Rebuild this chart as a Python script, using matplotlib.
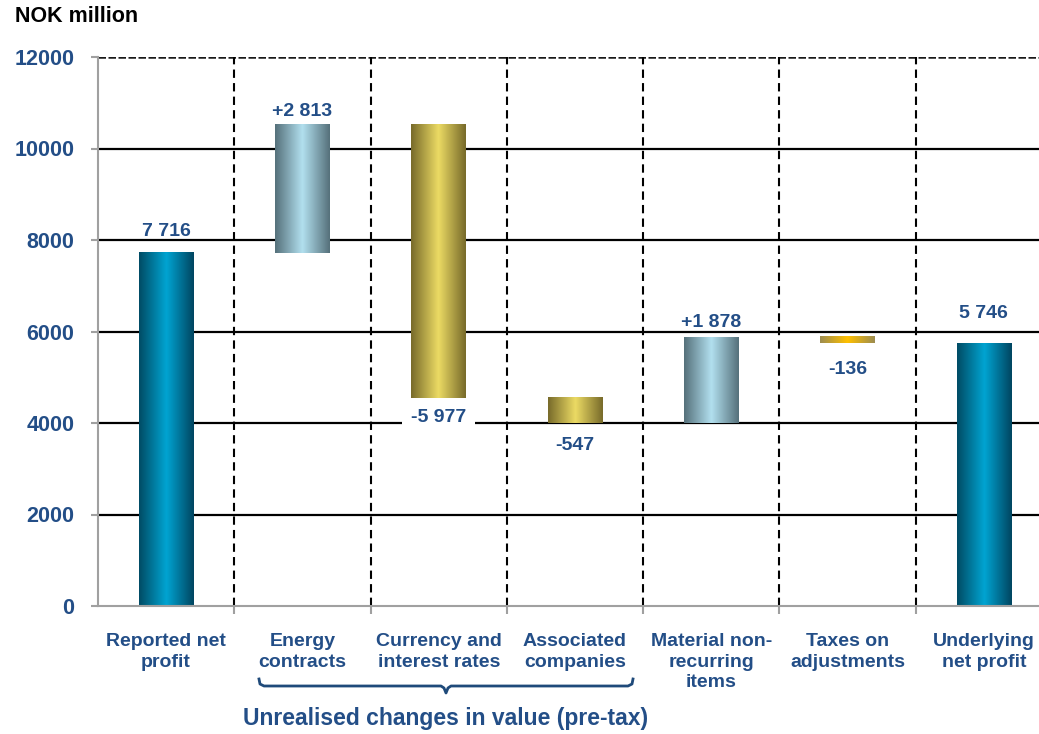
"""
Waterfall: reported net profit -> underlying net profit (NOK million)
"""
import numpy as np
import matplotlib.pyplot as plt
import matplotlib.transforms as mtransforms
from matplotlib.colors import LinearSegmentedColormap
from matplotlib.lines import Line2D

plt.rcParams['font.family'] = ['Liberation Sans', 'DejaVu Sans']
plt.rcParams['font.weight'] = 'bold'

# 数据
categories = ['Reported net\nprofit', 'Energy\ncontracts', 'Currency and\ninterest rates',
              'Associated\ncompanies', 'Material non-\nrecurring\nitems',
              'Taxes on\nadjustments', 'Underlying\nnet profit']
values = [7716, 2813, -5977, -547, 1878, -136, 5746]
kinds = ['total', 'delta', 'delta', 'delta', 'delta', 'delta', 'total']
value_labels = ['7 716', '+2 813', '-5 977', '-547', '+1 878', '-136', '5 746']
yticks = [0, 2000, 4000, 6000, 8000, 10000, 12000]
group_title = 'Unrealised changes in value (pre-tax)'

# 样式
TEXT_BLUE = '#234E87'
bar_palettes = {
    'teal': ['#004B64', '#00A4D2', '#004560'],
    'light': ['#55707A', '#B2E0EF', '#55707A'],
    'gold': ['#776A2A', '#ECDB64', '#776A2A'],
    'amber': ['#9C8C50', '#FFC000', '#9C8C50'],
}
bar_style = ['teal', 'light', 'gold', 'gold', 'light', 'amber', 'teal']
label_pad_px = [21, 13, 20, 23, 14, 26, 30]   # 标签与柱端距离
BAR_W = 0.40

W, H = 1039, 734
fig = plt.figure(figsize=(W / 100, H / 100), dpi=100)
ax = fig.add_axes([98 / W, 128 / H, 1 - 98 / W, 549 / H])

# 瀑布计算
bottoms, tops = [], []
running = 0
for v, k in zip(values, kinds):
    if k == 'total':
        b, t = 0, v
        running = v
    else:
        b, t = (running, running + v) if v >= 0 else (running + v, running)
        running += v
    bottoms.append(b)
    tops.append(t)

grad = np.linspace(0, 1, 256).reshape(1, -1)
px2pt = 72 / 100
for i, (b, t) in enumerate(zip(bottoms, tops)):
    cols = bar_palettes[bar_style[i]]
    cmap = LinearSegmentedColormap.from_list('g%d' % i, [(0, cols[0]), (0.5, cols[1]), (1, cols[2])])
    ax.imshow(grad, extent=[i - BAR_W / 2, i + BAR_W / 2, b, t], aspect='auto',
              cmap=cmap, interpolation='bicubic', zorder=3)

    if values[i] >= 0 or kinds[i] == 'total':
        ax.annotate(value_labels[i], (i, t), xytext=(0, label_pad_px[i] * px2pt),
                    textcoords='offset points', ha='center', va='center',
                    fontsize=14, color=TEXT_BLUE, zorder=5)
    else:
        bbox = None
        if i == 2:
            bbox = dict(boxstyle='square,pad=0.45', fc='white', ec='none')
        ax.annotate(value_labels[i], (i, b), xytext=(0, -label_pad_px[i] * px2pt),
                    textcoords='offset points', ha='center', va='center',
                    fontsize=14, color=TEXT_BLUE, zorder=5, bbox=bbox)

# 网格与分隔线
for y in yticks[1:-1]:
    ax.axhline(y, color='black', lw=1.6, zorder=1)
ax.axhline(yticks[-1], color='#1A1A1A', lw=1.8, ls=(0, (3, 1)), zorder=1)
for i in range(len(categories) - 1):
    ax.plot([i + 0.5, i + 0.5], [0, yticks[-1]], color='black', lw=1.5,
            ls=(0, (4, 2.5)), zorder=1)

ax.set_xlim(-0.5, (W - 166) / 136.3)
ax.set_ylim(0, 12000)

for s in ['top', 'right']:
    ax.spines[s].set_visible(False)
for s in ['left', 'bottom']:
    ax.spines[s].set_color('#A0A0A0')
    ax.spines[s].set_linewidth(1.5)
    ax.spines[s].set_zorder(4)

ax.set_yticks(yticks)
ax.set_yticklabels([str(v) for v in yticks], fontsize=15.5, color=TEXT_BLUE, fontweight='bold')
ax.tick_params(axis='y', length=5, width=1.5, color='#A0A0A0', pad=12)
ax.set_xticks([i + 0.5 for i in range(len(categories) - 1)])
ax.set_xticklabels([])
ax.tick_params(axis='x', length=6, width=1.5, color='#A0A0A0', direction='out')

trans = mtransforms.blended_transform_factory(ax.transData, ax.transAxes)
for i, name in enumerate(categories):
    ax.text(i, -0.050, name, transform=trans, ha='center', va='top',
            fontsize=14, color=TEXT_BLUE, linespacing=1.25)

# 分组括号
pts = [(259, 679), (260, 684), (264, 686), (441, 686), (444, 688), (446, 693),
       (448, 688), (451, 686), (628, 686), (632, 684), (633, 679)]
fig.add_artist(Line2D([p[0] / W for p in pts], [1 - p[1] / H for p in pts],
                      color='#1F4A7A', lw=2, transform=fig.transFigure))
fig.text(446 / W, 1 - 718 / H, group_title, ha='center', va='center',
         fontsize=16.5, color=TEXT_BLUE)

fig.text(15 / W, 1 - 17 / H, 'NOK million', ha='left', va='center',
         fontsize=15.5, color='black')

plt.savefig('out.png', dpi=100)
plt.close()
